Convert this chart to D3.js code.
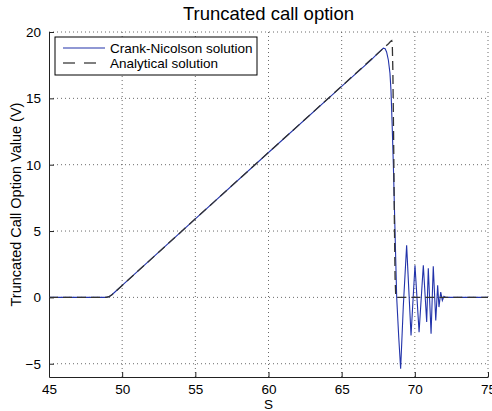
<!DOCTYPE html>
<html>
<head>
<meta charset="utf-8">
<script src="https://d3js.org/d3.v7.min.js"></script>
<style>
  body { margin: 0; background: #fff; }
  text { font-family: "Liberation Sans", Arial, sans-serif; fill: #000; }
</style>
</head>
<body>
<div id="chart"></div>
<script>
// Crank-Nicolson solution (S, V)
const cnS = [45, 48.9, 49.1, 49.3, 49.6, 50, 55, 60, 65, 67, 67.5, 67.85, 67.97, 68.07, 68.19, 68.3, 68.37, 68.45, 68.53, 68.65, 68.76, 68.9, 69.03,
  69.21, 69.44, 69.74, 70.01, 70.29, 70.58, 70.81, 70.92, 71.11, 71.26, 71.43, 71.56, 71.65, 71.77, 71.88, 71.99, 72.1, 75];
const cnV = [0, 0, 0.05, 0.2, 0.5, 0.9, 5.92, 10.92, 15.9, 17.88, 18.42, 18.78, 18.74, 18.5, 17.89, 16.9, 15.6, 13, 10.1, 4.8, 0, -3.0, -5.38,
  -0.73, 3.92, -2.87, 2.42, -2.62, 2.42, -1.86, 2.19, -2.74, 2.34, -1.74, 0.91, -0.73, 0.40, -0.23, 0.08, 0, 0];

// Analytical solution (S, V)
const anS = [45, 48.9, 49.1, 49.3, 49.6, 50, 55, 60, 65, 68, 68.2, 68.35, 68.42, 68.46, 68.5, 68.55, 68.6, 68.65, 68.7, 75];
const anV = [0, 0, 0.05, 0.2, 0.5, 0.9, 5.92, 10.92, 15.92, 18.92, 19.12, 19.3, 19.35, 19.1, 17, 12, 6, 1.5, 0, 0];

const xTicks = [45, 50, 55, 60, 65, 70, 75];
const yTicks = [-5, 0, 5, 10, 15, 20];
const legendLabels = ["Crank-Nicolson solution", "Analytical solution"];

const W = 492, H = 411;
const margin = { top: 32, right: 4, bottom: 34, left: 49 };
const width = W - margin.left - margin.right;
const height = H - margin.top - margin.bottom;

const svg = d3.select("#chart").append("svg")
  .attr("width", W)
  .attr("height", H);

const g = svg.append("g")
  .attr("transform", `translate(${margin.left},${margin.top})`);

const x = d3.scaleLinear().domain([45, 75]).range([0, width]);
const y = d3.scaleLinear().domain([-6, 20]).range([height, 0]);

// dotted grid
g.append("g").selectAll("line")
  .data(xTicks.slice(1))
  .enter().append("line")
  .attr("x1", d => x(d)).attr("x2", d => x(d))
  .attr("y1", 0).attr("y2", height)
  .attr("stroke", "#444").attr("stroke-width", 0.8)
  .attr("stroke-dasharray", "1,3");

g.append("g").selectAll("line")
  .data(yTicks)
  .enter().append("line")
  .attr("x1", 0).attr("x2", width)
  .attr("y1", d => y(d)).attr("y2", d => y(d))
  .attr("stroke", "#444").attr("stroke-width", 0.8)
  .attr("stroke-dasharray", "1,3");

// axes (ticks inward)
const xAxis = g.append("g")
  .attr("transform", `translate(0,${height})`)
  .call(d3.axisBottom(x).tickValues(xTicks).tickSizeInner(-5).tickSizeOuter(0).tickPadding(7));
const yAxis = g.append("g")
  .call(d3.axisLeft(y).tickValues(yTicks).tickSizeInner(-5).tickSizeOuter(0).tickPadding(8));

[xAxis, yAxis].forEach(a => {
  a.select(".domain").attr("stroke", "#222");
  a.selectAll(".tick line").attr("stroke", "#222");
  a.selectAll("text").style("font-size", "13.5px").style("font-family", "Liberation Sans, Arial, sans-serif");
});

// lines
const line = d3.line().x(d => x(d[0])).y(d => y(d[1]));

g.append("path")
  .datum(cnS.map((s, i) => [s, cnV[i]]))
  .attr("d", line)
  .attr("fill", "none")
  .attr("stroke", "#2233aa")
  .attr("stroke-width", 1.1);

g.append("path")
  .datum(anS.map((s, i) => [s, anV[i]]))
  .attr("d", line)
  .attr("fill", "none")
  .attr("stroke", "#333")
  .attr("stroke-width", 1.3)
  .attr("stroke-dasharray", "9,5");

// title and labels
svg.append("text")
  .attr("x", margin.left + width / 2)
  .attr("y", 20)
  .attr("text-anchor", "middle")
  .style("font-size", "18.5px")
  .text("Truncated call option");

svg.append("text")
  .attr("x", margin.left + width / 2)
  .attr("y", 409)
  .attr("text-anchor", "middle")
  .style("font-size", "13.5px")
  .text("S");

svg.append("text")
  .attr("transform", `translate(21,${margin.top + height / 2}) rotate(-90)`)
  .attr("text-anchor", "middle")
  .style("font-size", "14.5px")
  .text("Truncated Call Option Value (V)");

// legend
const lg = svg.append("g").attr("transform", "translate(55,37)");
lg.append("rect")
  .attr("width", 202).attr("height", 38)
  .attr("fill", "#fff").attr("stroke", "#000").attr("stroke-width", 1);

const legendStyles = [
  { stroke: "#2233aa", dash: null, w: 1.1 },
  { stroke: "#555", dash: "12,9", w: 1.3 }
];
legendLabels.forEach((lab, i) => {
  const yy = 11 + i * 15;
  lg.append("line")
    .attr("x1", 8).attr("x2", 50)
    .attr("y1", yy).attr("y2", yy)
    .attr("stroke", legendStyles[i].stroke)
    .attr("stroke-width", legendStyles[i].w)
    .attr("stroke-dasharray", legendStyles[i].dash);
  lg.append("text")
    .attr("x", 55).attr("y", yy + 5)
    .style("font-size", "13.5px")
    .text(lab);
});
</script>
</body>
</html>
